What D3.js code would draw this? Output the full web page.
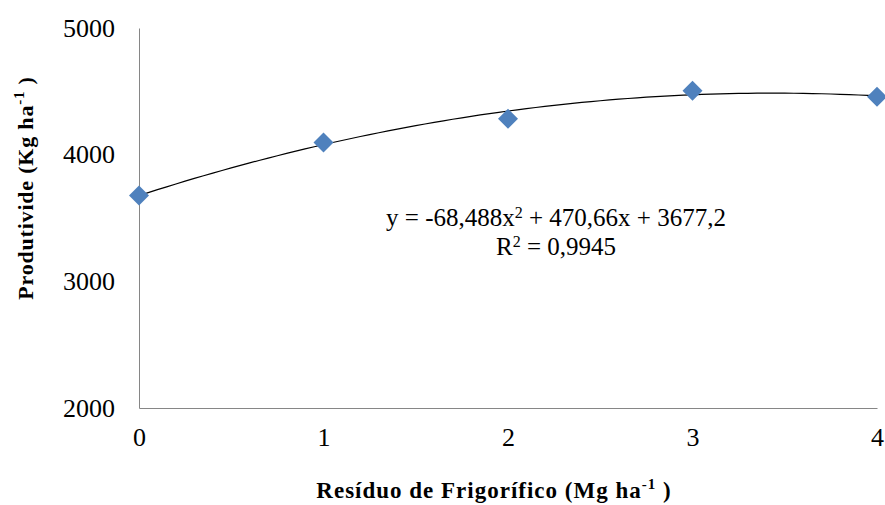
<!DOCTYPE html>
<html>
<head>
<meta charset="utf-8">
<script src="https://cdn.jsdelivr.net/npm/d3@7/dist/d3.min.js"></script>
<style>
  html, body { margin: 0; padding: 0; background: #fff; }
  svg text { font-family: "Liberation Serif", "DejaVu Serif", "Times New Roman", serif; }
</style>
</head>
<body>
<svg id="chart" width="885" height="505"></svg>
<script>
// Doses of slaughterhouse residue (Mg/ha) and measured yield (kg/ha)
const doses = [0, 1, 2, 3, 4];
const yields = [3677, 4097, 4283, 4505, 4457];
const yTicks = [2000, 3000, 4000, 5000];
const xTicks = [0, 1, 2, 3, 4];
// Quadratic trend: y = a x^2 + b x + c
const trendCoef = { a: -68.488, b: 470.66, c: 3677.2 };
const rSquared = "0,9945";

const FONT = "'Liberation Serif', 'DejaVu Serif', 'Times New Roman', serif";

const svg = d3.select("#chart");
const margin = { left: 139, right: 8, top: 28, bottom: 97 };
const W = 885, H = 505;

const x = d3.scaleLinear().domain([0, 4]).range([margin.left, W - margin.right]);
const y = d3.scaleLinear().domain([2000, 5000]).range([H - margin.bottom, margin.top]);

const axisColor = "#868686";

// Left axis
const gy = svg.append("g")
  .attr("transform", `translate(${margin.left},0)`)
  .call(d3.axisLeft(y).tickValues(yTicks).tickSize(0).tickPadding(24).tickFormat(d3.format("d")));
gy.attr("font-family", FONT);
gy.select(".domain").attr("stroke", axisColor);
gy.selectAll("text").attr("font-size", 26).attr("fill", "#000").style("font-family", FONT);

// Bottom axis
const gx = svg.append("g")
  .attr("transform", `translate(0,${y(2000)})`)
  .call(d3.axisBottom(x).tickValues(xTicks).tickSize(0).tickPadding(20).tickFormat(d3.format("d")));
gx.attr("font-family", FONT);
gx.select(".domain").attr("stroke", axisColor);
gx.selectAll("text").attr("font-size", 26).attr("fill", "#000").style("font-family", FONT);

// Trend curve evaluated from the fitted equation
const trend = v => trendCoef.a * v * v + trendCoef.b * v + trendCoef.c;
const curvePts = d3.range(0, 4.0001, 0.05).map(v => [v, trend(v)]);
svg.append("path")
  .datum(curvePts)
  .attr("fill", "none")
  .attr("stroke", "#000")
  .attr("stroke-width", 1.2)
  .attr("d", d3.line().x(d => x(d[0])).y(d => y(d[1])));

// Diamond markers
const diamond = d3.symbol().type(d3.symbolSquare).size(200);
svg.append("g").selectAll("path")
  .data(doses.map((d, i) => ({ d, v: yields[i] })))
  .join("path")
  .attr("d", diamond)
  .attr("transform", p => `translate(${x(p.d)},${y(p.v)}) rotate(45)`)
  .attr("fill", "#4F81BD");

// Equation and R²
const eq = svg.append("text")
  .attr("x", 556).attr("y", 226)
  .attr("text-anchor", "middle")
  .attr("font-size", 25).style("font-family", FONT);
eq.append("tspan").text("y = -68,488x");
eq.append("tspan").attr("dy", -8).attr("font-size", 16).text("2");
eq.append("tspan").attr("dy", 8).text(" + 470,66x + 3677,2");

const r2 = svg.append("text")
  .attr("x", 556).attr("y", 255)
  .attr("text-anchor", "middle")
  .attr("font-size", 25).style("font-family", FONT);
r2.append("tspan").text("R");
r2.append("tspan").attr("dy", -8).attr("font-size", 16).text("2");
r2.append("tspan").attr("dy", 8).text(" = " + rSquared);

// X axis title
const xt = svg.append("text")
  .attr("x", 494).attr("y", 498)
  .attr("text-anchor", "middle")
  .attr("font-size", 23).attr("font-weight", "bold")
  .attr("letter-spacing", 1).style("font-family", FONT);
xt.append("tspan").text("Resíduo de Frigorífico (Mg ha");
xt.append("tspan").attr("dy", -9).attr("font-size", 15).text("-1");
xt.append("tspan").attr("dy", 9).text(" )");

// Y axis title
const yt = svg.append("text")
  .attr("transform", "translate(33,188) rotate(-90)")
  .attr("text-anchor", "middle")
  .attr("font-size", 22).attr("font-weight", "bold")
  .attr("letter-spacing", 0.8).style("font-family", FONT);
yt.append("tspan").text("Produtivide (Kg ha");
yt.append("tspan").attr("dy", -9).attr("font-size", 15).text("-1");
yt.append("tspan").attr("dy", 9).text(" )");
</script>
</body>
</html>
